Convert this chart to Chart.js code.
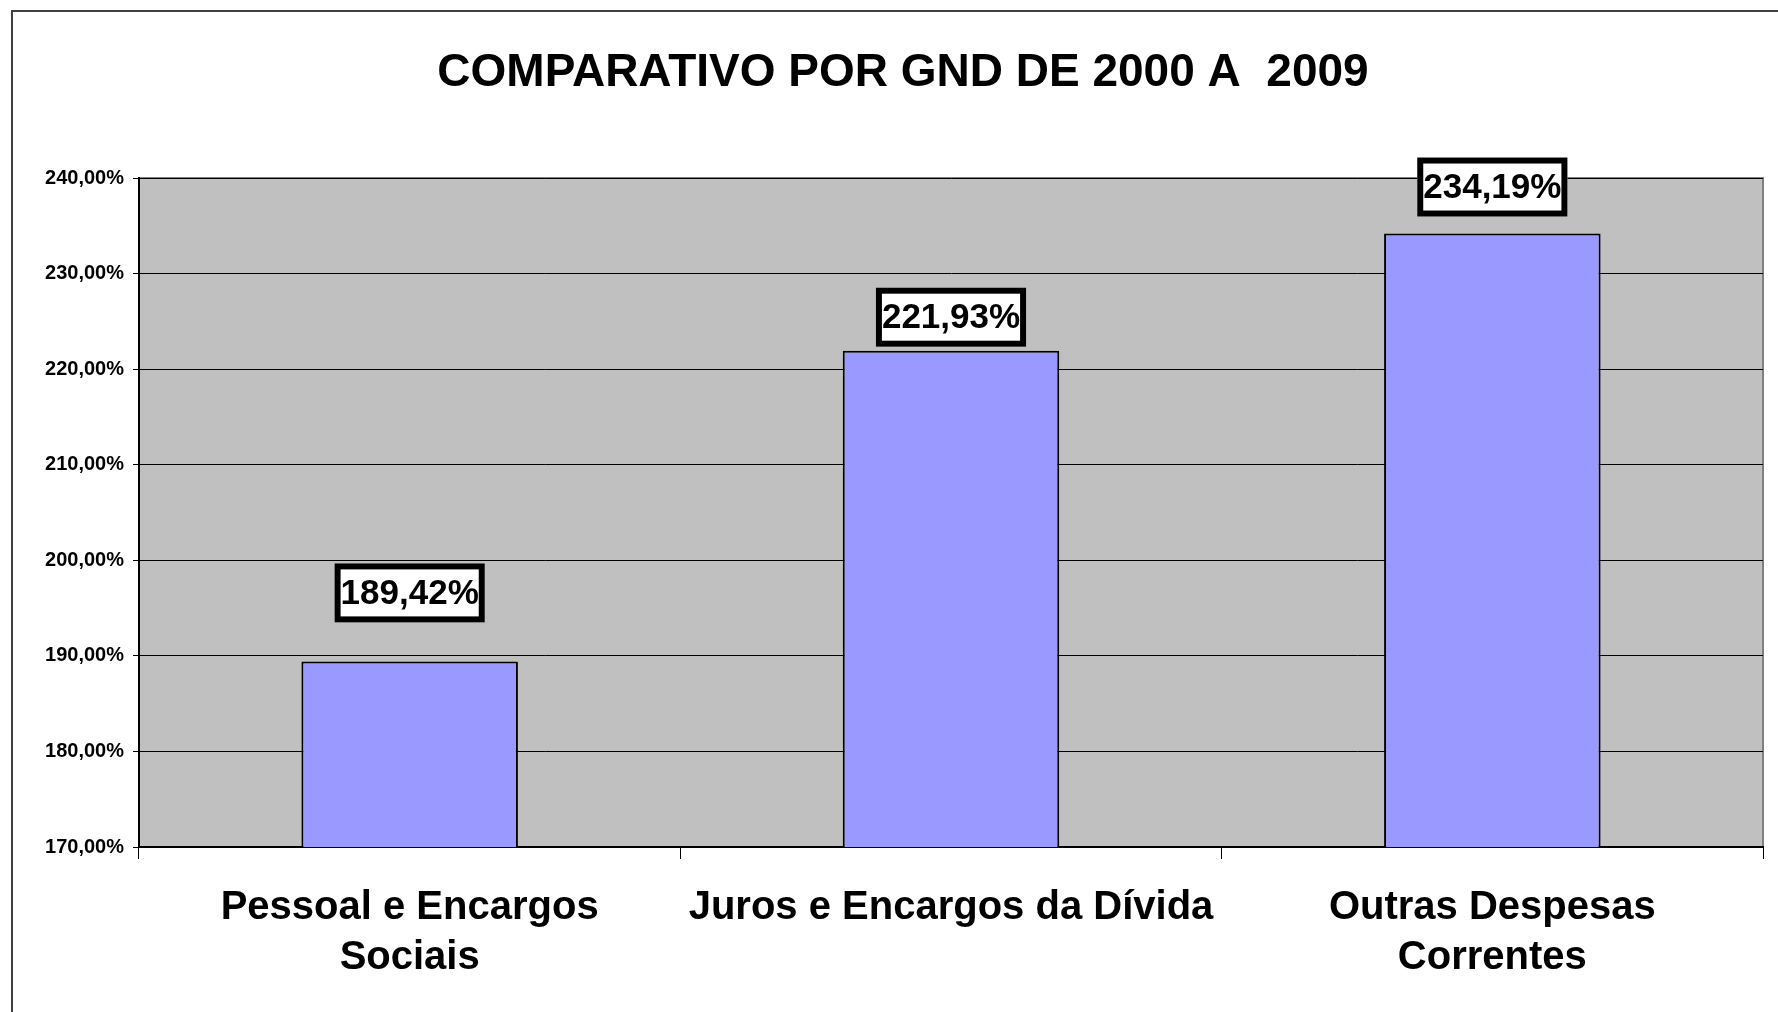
<!DOCTYPE html>
<html>
<head>
<meta charset="utf-8">
<script src="https://cdn.jsdelivr.net/npm/chart.js@4.4.1/dist/chart.umd.min.js"></script>
<style>
  html, body { margin: 0; padding: 0; background: #fff; }
  #wrap { width: 1778px; height: 1012px; }
</style>
</head>
<body>
<div id="wrap"><canvas id="gndChart" width="1778" height="1012"></canvas></div>
<script>
// data
const categories = [['Pessoal e Encargos', 'Sociais'], 'Juros e Encargos da Dívida', ['Outras Despesas', 'Correntes']];
const percentValues = [189.42, 221.93, 234.19];
const yTickLabels = ['170,00%', '180,00%', '190,00%', '200,00%', '210,00%', '220,00%', '230,00%', '240,00%'];
const chartTitle = 'COMPARATIVO POR GND DE 2000 A  2009';

// gap between label box and bar top, per bar (as in the original)
const labelGaps = [39, 4, 17];

function fmtPct(v) {
    return v.toFixed(2).replace('.', ',') + '%';
}

const frameAndTitle = {
    id: 'frameAndTitle',
    beforeDraw(chart) {
        const ctx = chart.ctx;
        const a = chart.chartArea;
        ctx.save();
        ctx.fillStyle = '#fff';
        ctx.fillRect(0, 0, chart.width, chart.height);
        // outer border
        ctx.strokeStyle = '#404040';
        ctx.lineWidth = 2;
        ctx.beginPath();
        ctx.moveTo(12, chart.height + 5);
        ctx.lineTo(12, 11);
        ctx.lineTo(chart.width + 5, 11);
        ctx.stroke();
        // plot background
        ctx.fillStyle = '#C0C0C0';
        ctx.fillRect(a.left, a.top, a.right - a.left, a.bottom - a.top);
        ctx.strokeStyle = '#808080';
        ctx.lineWidth = 2;
        ctx.beginPath();
        ctx.moveTo(a.left, a.top);
        ctx.lineTo(a.right, a.top);
        ctx.lineTo(a.right, a.bottom);
        ctx.stroke();
        // title
        ctx.fillStyle = '#000';
        ctx.font = 'bold 46px "Liberation Sans", Arial, sans-serif';
        ctx.textAlign = 'center';
        ctx.textBaseline = 'middle';
        ctx.fillText(chartTitle, 903, 73);
        ctx.restore();
    }
};

const valueBoxes = {
    id: 'valueBoxes',
    afterDatasetsDraw(chart) {
        const ctx = chart.ctx;
        const meta = chart.getDatasetMeta(0);
        ctx.save();
        ctx.font = 'bold 35px "Liberation Sans", Arial, sans-serif';
        ctx.textAlign = 'center';
        ctx.textBaseline = 'middle';
        meta.data.forEach(function (bar, i) {
            const txt = fmtPct(percentValues[i]);
            const w = ctx.measureText(txt).width + 12;
            const h = 59;
            const bottom = bar.y - labelGaps[i];
            const left = bar.x - w / 2;
            ctx.fillStyle = '#fff';
            ctx.fillRect(left, bottom - h, w, h);
            ctx.strokeStyle = '#000';
            ctx.lineWidth = 6;
            ctx.strokeRect(left + 3, bottom - h + 3, w - 6, h - 6);
            ctx.fillStyle = '#000';
            ctx.fillText(txt, bar.x, bottom - h / 2 + 1);
        });
        ctx.restore();
    }
};

const ctx = document.getElementById('gndChart').getContext('2d');
new Chart(ctx, {
    type: 'bar',
    data: {
        labels: categories,
        datasets: [{
            data: percentValues,
            backgroundColor: '#9999FF',
            borderColor: '#000',
            borderWidth: 2,
            barPercentage: 0.4,
            categoryPercentage: 1
        }]
    },
    options: {
        responsive: false,
        animation: false,
        layout: { padding: { left: 0, top: 178, right: 15, bottom: 0 } },
        plugins: {
            legend: { display: false },
            title: { display: false },
            tooltip: { enabled: false }
        },
        scales: {
            x: {
                offset: true,
                grid: {
                    offset: true,
                    drawOnChartArea: false,
                    color: '#000',
                    tickLength: 12,
                    lineWidth: 1
                },
                border: { display: true, color: '#000', width: 2 },
                ticks: {
                    color: '#000',
                    padding: 24,
                    maxRotation: 0,
                    autoSkip: false,
                    font: { family: '"Liberation Sans", Arial, sans-serif', size: 40, weight: 'bold', lineHeight: 1.25 }
                },
                afterFit(scale) { scale.height = 165; }
            },
            y: {
                min: 170,
                max: 240,
                ticks: {
                    stepSize: 10,
                    color: '#000',
                    padding: 9,
                    font: { family: '"Liberation Sans", Arial, sans-serif', size: 20, weight: 'bold' },
                    callback: function (value, index) { return yTickLabels[index]; }
                },
                grid: { color: '#000', lineWidth: 1, tickLength: 6 },
                border: { display: true, color: '#000', width: 2 },
                afterFit(scale) { scale.width = 139; }
            }
        }
    },
    plugins: [frameAndTitle, valueBoxes]
});
</script>
</body>
</html>
